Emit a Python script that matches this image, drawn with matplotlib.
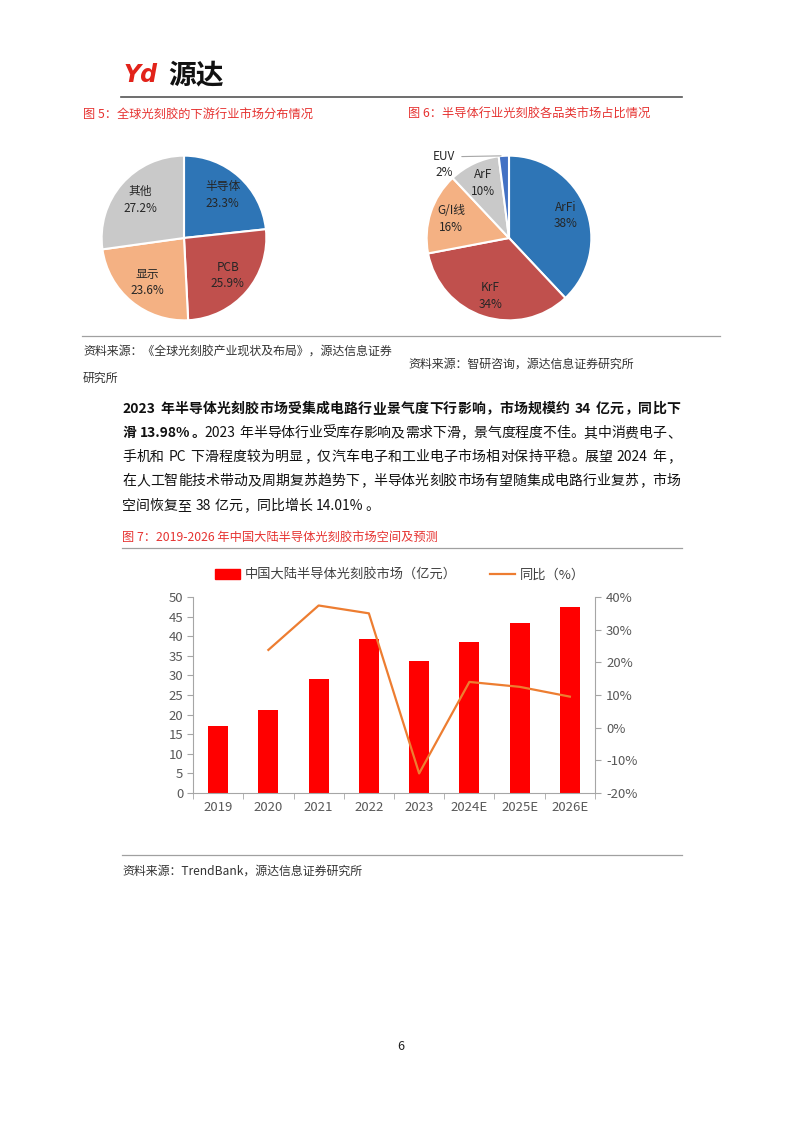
import re
import numpy as np
import matplotlib
matplotlib.use('Agg')
import matplotlib.pyplot as plt
import matplotlib.ticker as mticker
from matplotlib.patches import Patch
from matplotlib.lines import Line2D

plt.rcParams['font.family'] = ['Noto Sans CJK SC', 'DejaVu Sans']
plt.rcParams['axes.unicode_minus'] = False

# ---- 图5：全球光刻胶下游市场 ----
pie1_names = ['半导体', 'PCB', '显示', '其他']
pie1_share = [23.3, 25.9, 23.6, 27.2]

# ---- 图6：半导体光刻胶品类占比 ----
pie2_names = ['ArFi', 'KrF', 'G/I线', 'ArF', 'EUV']
pie2_share = [38, 34, 16, 10, 2]

# ---- 图7：中国大陆半导体光刻胶市场 ----
years = ['2019', '2020', '2021', '2022', '2023', '2024E', '2025E', '2026E']
market = [17.1, 21.1, 29.2, 39.3, 33.7, 38.5, 43.4, 47.4]   # 亿元
yoy = [np.nan, 23.8, 37.4, 35.0, -14.0, 14.0, 12.5, 9.5]     # %

para_lines = [
    [('2023 年半导体光刻胶市场受集成电路行业景气度下行影响，市场规模约 34 亿元，同比下', 'bold')],
    [('滑 13.98%。', 'bold'), ('2023 年半导体行业受库存影响及需求下滑，景气度程度不佳。其中消费电子、', 'normal')],
    [('手机和 PC 下滑程度较为明显，仅汽车电子和工业电子市场相对保持平稳。展望 2024 年，', 'normal')],
    [('在人工智能技术带动及周期复苏趋势下，半导体光刻胶市场有望随集成电路行业复苏，市场', 'normal')],
    [('空间恢复至 38 亿元，同比增长 14.01%。', 'normal')],
]

RED_CAP = '#E63331'
BLUE = '#2E75B6'
BRICK = '#C0504D'
PEACH = '#F4B183'
GREY = '#C9C9C9'
AXIS_GREY = '#A6A6A6'
TICK_TXT = '#595959'

W, H = 802, 1133
fig = plt.figure(figsize=(W / 100, H / 100), dpi=100)


def fx(x):
    return x / W


def fy(y):
    return 1 - y / H


def hline(y, x0, x1, color='#A0A0A0', lw=0.9):
    fig.add_artist(Line2D([fx(x0), fx(x1)], [fy(y), fy(y)], transform=fig.transFigure,
                          color=color, lw=lw))


def put(x, y, s, **kw):
    kw.setdefault('va', 'center')
    return fig.text(fx(x), fy(y), s, **kw)


# ---- 页眉 ----
put(124, 75, 'Yd', family=['DejaVu Sans'], weight='bold', style='italic', fontsize=17, color='#E2231A')
put(168, 75, '源达', weight='black', fontsize=20, color='#111111')
hline(97, 121, 682, color='#555555', lw=1.2)

put(83, 114, '图 5：全球光刻胶的下游行业市场分布情况', fontsize=8.8, color=RED_CAP)
put(408, 114, '图 6：半导体行业光刻胶各品类市场占比情况', fontsize=8.8, color=RED_CAP)


# ---- 饼图 ----
def draw_pie(cx, cy, r, shares, names, colors, label_r, skip=()):
    ax = fig.add_axes([fx(cx - r), fy(cy + r), 2 * r / W, 2 * r / H])
    wedges, _ = ax.pie(shares, colors=colors, startangle=90, counterclock=False,
                       wedgeprops=dict(edgecolor='white', linewidth=1.5))
    ax.set_xlim(-1.02, 1.02)
    ax.set_ylim(-1.02, 1.02)
    ax.axis('off')
    off = 8.5 / r
    for w, n, v in zip(wedges, names, shares):
        if n in skip:
            continue
        a = np.deg2rad((w.theta1 + w.theta2) / 2)
        x, y = label_r * np.cos(a), label_r * np.sin(a)
        ax.text(x, y + off, n, ha='center', va='center', fontsize=8.5, color='#262626')
        ax.text(x, y - off, f'{v}%', ha='center', va='center', fontsize=8.5, color='#262626')
    return ax, wedges


draw_pie(184, 238, 84, pie1_share, pie1_names, [BLUE, BRICK, PEACH, GREY], 0.70)
ax_p2, w2 = draw_pie(509, 238, 84, pie2_share, pie2_names, [BLUE, BRICK, PEACH, GREY, '#4472C4'],
                     0.74, skip=('EUV',))
# EUV 外部标签
a = np.deg2rad((w2[-1].theta1 + w2[-1].theta2) / 2)
ax_p2.annotate('', xy=(np.cos(a), np.sin(a)), xytext=((458 - 509) / 84, (238 - 155) / 84),
               arrowprops=dict(arrowstyle='-', color='#A6A6A6', lw=0.8), annotation_clip=False)
ax_p2.text((443 - 509) / 84, (238 - 155) / 84, 'EUV', ha='center', va='center', fontsize=8.5, color='#262626')
ax_p2.text((443 - 509) / 84, (238 - 171) / 84, '2%', ha='center', va='center', fontsize=8.5, color='#262626')

hline(336, 82, 720)
put(83, 352, '资料来源：《全球光刻胶产业现状及布局》，源达信息证券', fontsize=8.6, color='#333333')
put(83, 378, '研究所', fontsize=8.6, color='#333333')
put(408, 364, '资料来源：智研咨询，源达信息证券研究所', fontsize=8.6, color='#333333')

# ---- 正文段落（两端对齐） ----
FS_PARA = 10
EM = FS_PARA * 100 / 72
renderer = fig.canvas.get_renderer()


def is_wide(ch):
    return len(ch) == 1 and ord(ch) > 0x2E80


def tok_width(tok, wt):
    if tok == ' ':
        return 0.25 * EM
    if is_wide(tok):
        return EM
    t = fig.text(0, 0, tok, fontsize=FS_PARA, weight=wt)
    w = t.get_window_extent(renderer).width
    t.remove()
    return w + 0.08 * EM


def draw_line(segs, yc, x0=122, x1=680, justify=True):
    toks = []
    for s, wt in segs:
        for tok in re.findall(r'[A-Za-z0-9.%]+| |.', s):
            toks.append((tok, wt, tok_width(tok, wt)))
    total = sum(t[2] for t in toks)
    gap = (x1 - x0 - total) / (len(toks) - 1) if justify else 0
    x = x0
    yb = yc + 5
    for tok, wt, w in toks:
        if tok != ' ':
            if tok in '，。、：；':
                fig.text(fx(x + 0.05 * EM), fy(yb), tok, fontsize=FS_PARA, weight=wt,
                         ha='left', va='baseline', color='#111111')
            elif is_wide(tok):
                fig.text(fx(x + w / 2), fy(yb), tok, fontsize=FS_PARA, weight=wt,
                         ha='center', va='baseline', color='#111111')
            else:
                fig.text(fx(x + 0.04 * EM), fy(yb), tok, fontsize=FS_PARA, weight=wt,
                         ha='left', va='baseline', color='#111111')
        x += w + gap


line_y = [408, 432, 456, 480, 505]
for i, (segs, yc) in enumerate(zip(para_lines, line_y)):
    draw_line(segs, yc, justify=(i < len(para_lines) - 1))

# ---- 图7 ----
put(122, 537, '图 7：2019-2026 年中国大陆半导体光刻胶市场空间及预测', fontsize=8.8, color=RED_CAP)
hline(548, 122, 682)

ax = fig.add_axes([fx(193), fy(793), (595 - 193) / W, (793 - 597) / H])
x = np.arange(len(years))
bars = ax.bar(x, market, width=0.4, color='#FF0000', zorder=2)
ax.set_xlim(-0.5, len(years) - 0.5)
ax.set_ylim(0, 50)
ax.set_yticks(np.arange(0, 51, 5))
ax.set_xticks(x)
ax.set_xticklabels(years)
ax.set_xticks(np.arange(-0.5, len(years), 1), minor=True)
ax.tick_params(axis='x', which='major', length=0, pad=6, labelsize=9.5, labelcolor=TICK_TXT)
ax.tick_params(axis='x', which='minor', length=4, color=AXIS_GREY)
ax.tick_params(axis='y', length=4, color=AXIS_GREY, labelsize=9.5, labelcolor=TICK_TXT, pad=3)
for s in ['top', 'right']:
    ax.spines[s].set_visible(False)
for s in ['left', 'bottom']:
    ax.spines[s].set_color(AXIS_GREY)

ax2 = ax.twinx()
line, = ax2.plot(x, yoy, color='#ED7D31', lw=1.6)
ax2.set_ylim(-20, 40)
ax2.set_yticks(np.arange(-20, 41, 10))
ax2.yaxis.set_major_formatter(mticker.FuncFormatter(lambda v, p: f'{v:.0f}%'))
ax2.tick_params(axis='y', length=4, color=AXIS_GREY, labelsize=9.5, labelcolor=TICK_TXT, pad=4)
for s in ['top', 'left', 'bottom']:
    ax2.spines[s].set_visible(False)
ax2.spines['right'].set_color(AXIS_GREY)

handles = [Patch(color='#FF0000', label='中国大陆半导体光刻胶市场（亿元）'),
           Line2D([], [], color='#ED7D31', lw=1.6, label='同比（%）')]
leg = fig.legend(handles=handles, loc='center', bbox_to_anchor=(fx(400), fy(575)), ncol=2,
                 frameon=False, fontsize=9.5, handlelength=1.9, handletextpad=0.4, columnspacing=2.5)
for t in leg.get_texts():
    t.set_color('#404040')

hline(855, 122, 682)
put(122, 871, '资料来源：TrendBank，源达信息证券研究所', fontsize=8.6, color='#333333')

put(401, 1046, '6', fontsize=9, ha='center', color='#222222')

fig.savefig('out.png', dpi=100)
